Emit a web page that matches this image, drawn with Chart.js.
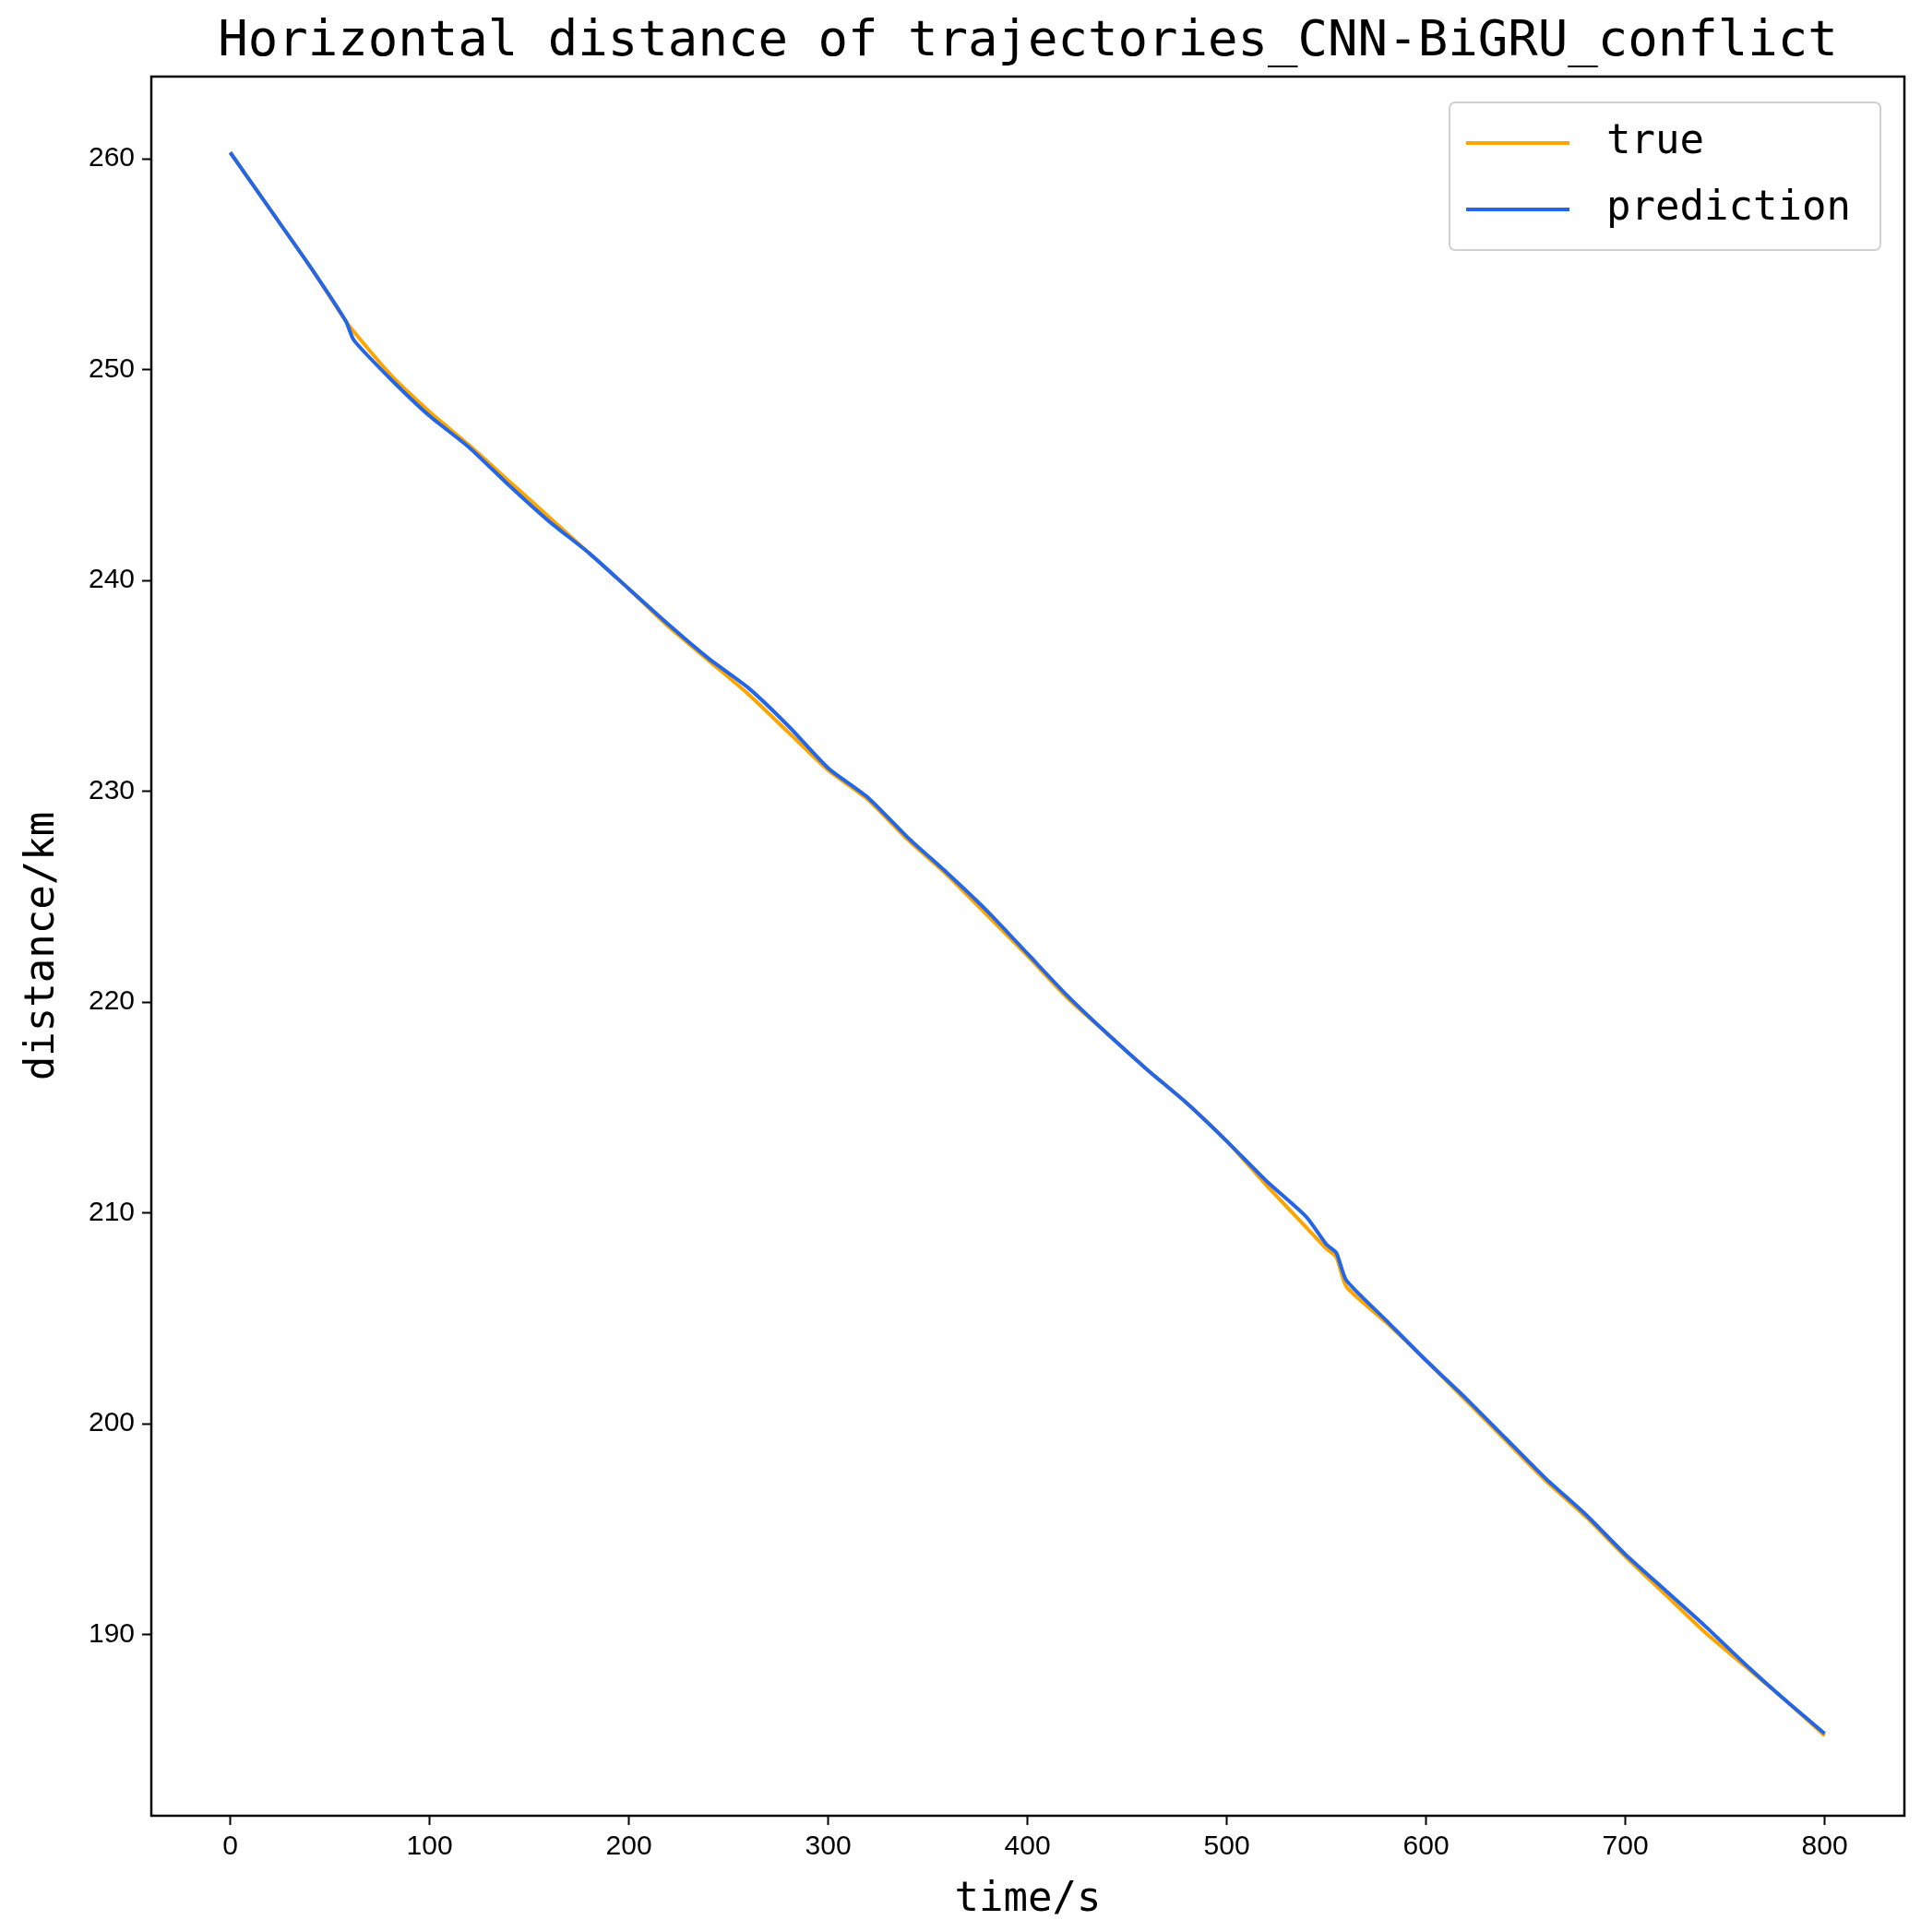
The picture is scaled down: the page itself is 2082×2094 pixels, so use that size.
<!DOCTYPE html>
<html>
<head>
<meta charset="utf-8">
<script src="https://cdn.jsdelivr.net/npm/chart.js@4/dist/chart.umd.min.js"></script>
<style>
  html, body { margin: 0; padding: 0; background: #fff; }
  #wrap { width: 2082px; height: 2094px; }
</style>
</head>
<body>
<div id="wrap"><canvas id="chart" width="2082" height="2094"></canvas></div>
<script>
(() => {
  'use strict';

  const times = [0, 20, 40, 58, 62, 80, 100, 120, 140, 160, 180, 200, 220, 240, 260, 280, 300, 320, 340, 360, 380,
    400, 420, 440, 460, 480, 500, 520, 540, 550, 555, 560, 580, 600, 620, 640, 660, 680, 700, 720, 740, 760, 780, 800];
  const trueValues = [260.3, 257.6, 254.9, 252.3, 251.8, 249.8, 248.0, 246.4, 244.7, 243.0, 241.3, 239.6, 237.8, 236.2, 234.6, 232.8,
    231.0, 229.6, 227.7, 226.0, 224.1, 222.2, 220.2, 218.5, 216.8, 215.2, 213.4, 211.3, 209.3, 208.3, 207.9, 206.5,
    204.8, 203.0, 201.1, 199.2, 197.3, 195.6, 193.7, 191.9, 190.1, 188.5, 186.9, 185.2];
  const predValues = [260.3, 257.6, 254.9, 252.3, 251.4, 249.6, 247.8, 246.3, 244.5, 242.8, 241.3, 239.6, 237.9, 236.3, 234.9, 233.1,
    231.1, 229.7, 227.8, 226.1, 224.3, 222.3, 220.3, 218.5, 216.8, 215.2, 213.4, 211.5, 209.8, 208.5, 208.1, 206.8,
    204.9, 203.0, 201.2, 199.3, 197.4, 195.7, 193.8, 192.1, 190.4, 188.6, 186.9, 185.3];
  const xTicks = [0, 100, 200, 300, 400, 500, 600, 700, 800];
  const yTicks = [190, 200, 210, 220, 230, 240, 250, 260];

  const titleText = 'Horizontal distance of trajectories_CNN-BiGRU_conflict';
  const mono = '"DejaVu Sans Mono", monospace';
  const tickFont = { family: '"Liberation Sans Narrow", "Liberation Sans", Arial', size: 30 };

  /**
   * Draws the frame, title and legend around the plot area
   */
  const decorations = {
    id: 'decorations',
    afterDraw(chart) {
      const { ctx, chartArea: a } = chart;
      ctx.save();
      ctx.strokeStyle = '#000';
      ctx.lineWidth = 2.5;
      ctx.strokeRect(a.left, a.top, a.right - a.left, a.bottom - a.top);

      ctx.fillStyle = '#000';
      ctx.textAlign = 'center';
      ctx.textBaseline = 'alphabetic';
      ctx.font = `54px ${mono}`;
      ctx.fillText(titleText, (a.left + a.right) / 2, 60);

      // legend box
      const bx = a.right - 493, by = a.top + 28, bw = 467, bh = 160;
      ctx.strokeStyle = '#d0d0d0';
      ctx.lineWidth = 2;
      ctx.beginPath();
      ctx.roundRect(bx, by, bw, bh, 6);
      ctx.fillStyle = 'rgba(255,255,255,0.85)';
      ctx.fill();
      ctx.stroke();
      ctx.font = `44px ${mono}`;
      ctx.textAlign = 'left';
      ctx.textBaseline = 'middle';
      chart.data.datasets.forEach((ds, i) => {
        const y = by + 44 + i * 72;
        ctx.strokeStyle = ds.borderColor;
        ctx.lineWidth = 4;
        ctx.beginPath();
        ctx.moveTo(bx + 18, y);
        ctx.lineTo(bx + 130, y);
        ctx.stroke();
        ctx.fillStyle = '#000';
        ctx.fillText(ds.label, bx + 170, y);
      });
      ctx.restore();
    }
  };

  const toPoints = (values) => times.map((t, i) => ({ x: t, y: values[i] }));

  new Chart(document.getElementById('chart'), {
    type: 'line',
    data: {
      datasets: [
        { label: 'true', data: toPoints(trueValues), borderColor: '#FFA500', borderWidth: 4, pointRadius: 0, tension: 0.2, order: 1 },
        { label: 'prediction', data: toPoints(predValues), borderColor: '#2466E8', borderWidth: 4, pointRadius: 0, tension: 0.2, order: 0 }
      ]
    },
    options: {
      responsive: false,
      animation: false,
      layout: { padding: { top: 83, right: 18, left: 0, bottom: 0 } },
      plugins: { legend: { display: false }, title: { display: false }, tooltip: { enabled: false } },
      scales: {
        x: {
          type: 'linear', min: -39.6, max: 840,
          afterBuildTicks: (s) => { s.ticks = xTicks.map(v => ({ value: v })); },
          afterFit: (s) => { s.height = 126; },
          grid: { drawOnChartArea: false, color: '#000', tickLength: 10, tickWidth: 2 },
          border: { display: false },
          ticks: { color: '#000', font: tickFont, padding: 6, maxRotation: 0 },
          title: { display: true, text: 'time/s', color: '#000', font: { family: mono, size: 44 }, padding: { top: 0, bottom: 8 } }
        },
        y: {
          min: 181.4, max: 263.9,
          afterBuildTicks: (s) => { s.ticks = yTicks.map(v => ({ value: v })); },
          afterFit: (s) => { s.width = 164; },
          grid: { drawOnChartArea: false, color: '#000', tickLength: 10, tickWidth: 2 },
          border: { display: false },
          ticks: { color: '#000', font: tickFont, padding: 8 },
          title: { display: true, text: 'distance/km', color: '#000', font: { family: mono, size: 44 }, padding: { top: 20, bottom: 0 } }
        }
      }
    },
    plugins: [decorations]
  });
})();
</script>
</body>
</html>
